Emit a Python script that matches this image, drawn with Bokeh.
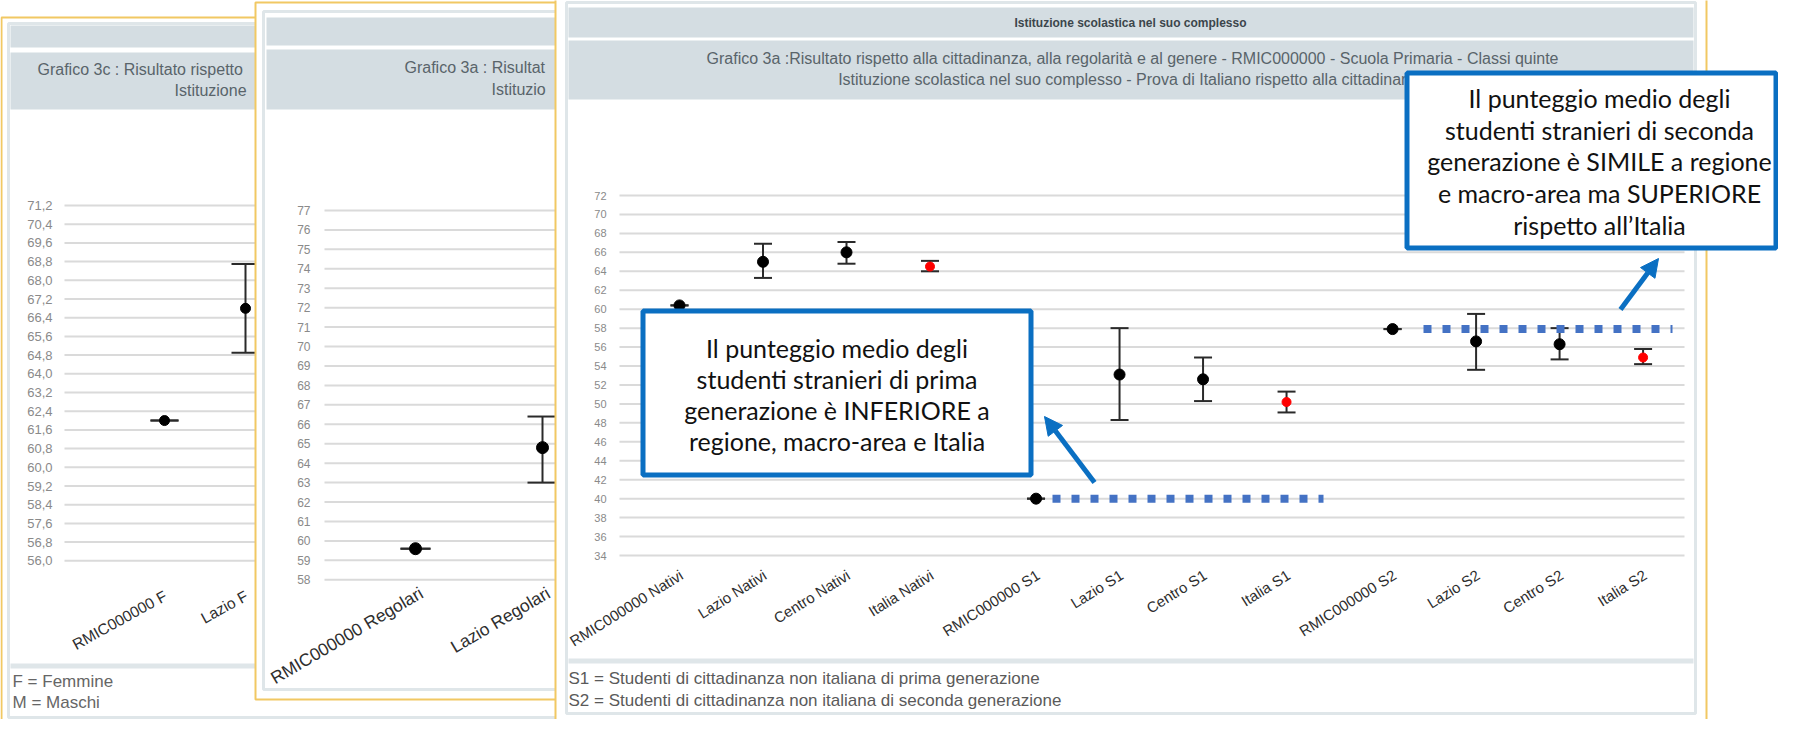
from bokeh.plotting import figure
from bokeh.models import Range1d, Arrow, NormalHead, ColumnDataSource
from bokeh.core.properties import value
from bokeh.embed import file_html
from bokeh.resources import INLINE
import math

# ------------------------------------------------------------------ data
# Grafico 3c (genere) - only the part that is not hidden by the other panels
g3c_categories = ["RMIC000000 F", "Lazio F"]
g3c_mean = [62.0, 66.8]
g3c_low = [62.0, 64.9]
g3c_high = [62.0, 68.7]
g3c_ticks = [71.2, 70.4, 69.6, 68.8, 68.0, 67.2, 66.4, 65.6, 64.8, 64.0,
             63.2, 62.4, 61.6, 60.8, 60.0, 59.2, 58.4, 57.6, 56.8, 56.0]
g3c_header = ["Grafico 3c :  Risultato rispetto", "Istituzione"]
g3c_footer = ["F = Femmine", "M = Maschi"]

# Grafico 3a (regolarita') - visible part
g3a_categories = ["RMIC000000 Regolari", "Lazio Regolari"]
g3a_mean = [59.6, 64.8]
g3a_low = [59.6, 63.0]
g3a_high = [59.6, 66.4]
g3a_ticks = [77, 76, 75, 74, 73, 72, 71, 70, 69, 68, 67, 66, 65, 64, 63, 62, 61, 60, 59, 58]
g3a_header = ["Grafico 3a :  Risultat", "Istituzio"]

# main chart (cittadinanza)
main_categories = ["RMIC000000 Nativi", "Lazio Nativi", "Centro Nativi", "Italia Nativi",
                   "RMIC000000 S1", "Lazio S1", "Centro S1", "Italia S1",
                   "RMIC000000 S2", "Lazio S2", "Centro S2", "Italia S2"]
main_group = [0, 0, 0, 0, 1, 1, 1, 1, 2, 2, 2, 2]
main_mean = [60.4, 65.0, 66.0, 64.5, 40.0, 53.1, 52.6, 50.2, 57.9, 56.6, 56.3, 54.9]
main_low = [60.4, 63.3, 64.8, 64.0, 40.0, 48.3, 50.3, 49.1, 57.9, 53.6, 54.7, 54.2]
main_high = [60.4, 66.9, 67.1, 65.1, 40.0, 58.0, 54.9, 51.3, 57.9, 59.5, 58.0, 55.8]
main_ticks = [72, 70, 68, 66, 64, 62, 60, 58, 56, 54, 52, 50, 48, 46, 44, 42, 40, 38, 36, 34]
main_title = "Istituzione scolastica nel suo complesso"
main_header = ["Grafico 3a :Risultato rispetto alla cittadinanza, alla regolarità e al genere - RMIC000000 - Scuola Primaria - Classi quinte",
               "Istituzione scolastica nel suo complesso - Prova di Italiano rispetto alla cittadinanza"]
main_footer = ["S1 = Studenti di cittadinanza non italiana di prima generazione",
               "S2 = Studenti di cittadinanza non italiana di seconda generazione"]

note_s1 = ["Il punteggio medio degli", "studenti stranieri di prima",
           "generazione è INFERIORE a", "regione, macro-area e Italia"]
note_s2 = ["Il punteggio medio degli", "studenti stranieri di seconda",
           "generazione è SIMILE a regione", "e macro-area ma SUPERIORE",
           "rispetto all’Italia"]

# ------------------------------------------------------------------ styles
ARIAL = value("Liberation Sans")
CALLOUT_FONT = value("Lato")
GOLD = "#f1c863"
INNER = "#dfe6e9"
HDR = "#d4dde2"
GRID = "#dadada"
BAR = "#2a2a2a"
BLUE = "#0a6fc2"
DOTS = "#4472c4"
HDR_TXT = "#59646a"

# ------------------------------------------------------------------ canvas
W, H = 1778, 719
M = 8  # page margin
p = figure(width=W, height=H, x_range=Range1d(M, M + W), y_range=Range1d(M + H, M),
           output_backend="svg", toolbar_location=None, tools="", min_border=0,
           x_axis_location=None, y_axis_location=None, outline_line_color=None,
           background_fill_color="white", border_fill_color="white")
p.grid.visible = False


def lin_range(v_a, px_a, v_b, px_b, px_start, px_end):
    k = (v_b - v_a) / (px_b - px_a)
    return Range1d(start=v_a + (px_start - px_a) * k, end=v_a + (px_end - px_a) * k)


GAP = 0.27
main_pos = [i + GAP * g for i, g in enumerate(main_group)]

p.extra_x_ranges = {
    "g3c_x": lin_range(0, 172, 1, 253, M, M + W),
    "g3a_x": lin_range(0, 423, 1, 550, M, M + W),
    "main_x": lin_range(0, 687, 1, 770.5, M, M + W),
}
p.extra_y_ranges = {
    "g3c_y": lin_range(71.2, 213, 56.0, 568.3, M + H, M),
    "g3a_y": lin_range(77, 218, 58, 587.3, M + H, M),
    "main_y": lin_range(72, 203, 34, 563, M + H, M),
}


def rect(l, r, t, b, fill=None, line=None, lw=1):
    p.quad(left=[l], right=[r], top=[t], bottom=[b], fill_color=fill,
           line_color=line, line_width=lw)


def texts(xs, ys, strs, size, color, align="left", baseline="middle", font=ARIAL,
          style="normal", angle=0, xr="default", yr="default", dx=0):
    src = ColumnDataSource(dict(x=xs, y=ys, t=strs))
    p.text(x="x", y="y", text="t", source=src, x_range_name=xr, y_range_name=yr,
           text_font=font, text_font_size=size, text_color=color, text_align=align,
           text_baseline=baseline, text_font_style=style, angle=angle, x_offset=dx)


def panel(gold, inner, hx, h1, h2, foot=None):
    l, t, r, b = gold
    rect(l, r, t, b, fill="white", line=GOLD, lw=2)
    il, it, ir, ib = inner
    rect(il, ir, it, ib, fill=None, line=INNER, lw=3)
    rect(hx[0], hx[1], h1[0], h1[1], fill=HDR)
    rect(hx[0], hx[1], h2[0], h2[1], fill=HDR)
    if foot is not None:
        rect(hx[0], hx[1], foot, foot + 5, fill=INNER)


def yaxis(ticks, labels, label_x, yr, size, g0, g1):
    n = len(ticks)
    p.segment(x0=[g0] * n, x1=[g1] * n, y0=ticks, y1=ticks, y_range_name=yr,
              line_color=GRID, line_width=2)
    texts([label_x] * n, ticks, labels, size, "#8a8a8a", align="right", yr=yr)


def errorbars(categories, xs, mean, low, high, xr, yr, cap, dot, lw):
    # national reference points (Italia) are drawn as a smaller red dot
    colors = ["red" if c.startswith("Italia") else "black" for c in categories]
    sizes = [dot - 2 if c.startswith("Italia") else dot for c in categories]
    src = ColumnDataSource(dict(x=xs, m=mean, lo=low, hi=high, dot_color=colors, dot_size=sizes))
    kw = dict(source=src, x_range_name=xr, y_range_name=yr)
    p.segment(x0="x", y0="lo", x1="x", y1="hi", line_color=BAR, line_width=lw, **kw)
    p.scatter(x="x", y="lo", marker="dash", size=cap, line_color=BAR, line_width=lw, **kw)
    p.scatter(x="x", y="hi", marker="dash", size=cap, line_color=BAR, line_width=lw, **kw)
    p.scatter(x="x", y="m", marker="circle", size="dot_size", fill_color="dot_color",
              line_color="dot_color", **kw)


def xlabels(xs, labels, xr, y_px, size, angle_deg, dx):
    n = len(xs)
    texts(xs, [y_px] * n, labels, size, "#2e2e2e", align="right", baseline="middle",
          angle=math.radians(angle_deg), xr=xr, dx=dx)


# ---------------------------------------------------------- panel 3c (back)
panel((9, 25, 700, 733), (16, 31, 690, 725), (18, 690), (33, 55), (60, 117), foot=671)
texts([45, 182], [77, 98], g3c_header, "16px", HDR_TXT)
g3c_x = list(range(len(g3c_categories)))
yaxis(g3c_ticks, [f"{t:.1f}".replace(".", ",") for t in g3c_ticks], 60, "g3c_y", "13px", 72, 700)
errorbars(g3c_categories, g3c_x, g3c_mean, g3c_low, g3c_high, "g3c_x", "g3c_y", 28, 10, 2)
xlabels(g3c_x, g3c_categories, "g3c_x", 602, "15.5px", 29, 1)
texts([20, 20], [689, 710], g3c_footer, "17px", "#666666")

# ---------------------------------------------------------- panel 3a (middle)
panel((263, 10, 1000, 707), (271, 19, 990, 697), (274, 990), (25, 53), (57, 117))
texts([412, 499], [75, 97], g3a_header, "16px", HDR_TXT)
g3a_x = list(range(len(g3a_categories)))
yaxis(g3a_ticks, [str(t) for t in g3a_ticks], 318, "g3a_y", "12px", 332, 1000)
errorbars(g3a_categories, g3a_x, g3a_mean, g3a_low, g3a_high, "g3a_x", "g3a_y", 30, 12, 2)
xlabels(g3a_x, g3a_categories, "g3a_x", 599, "17.5px", 30.5, 6)

# ---------------------------------------------------------- main panel (front)
panel((563, 2, 1714, 733), (574, 10, 1703, 721), (576, 1701), (15, 45), (48, 107), foot=666)
texts([1138], [30], [main_title], "12px", "#3c464c", align="center", style="bold")
texts([1140], [66], [main_header[0]], "16px", HDR_TXT, align="center")
texts([1140], [87], [main_header[1]], "16px", HDR_TXT, align="center")
yaxis(main_ticks, [str(t) for t in main_ticks], 614, "main_y", "11px", 627, 1692)
errorbars(main_categories, main_pos, main_mean, main_low, main_high, "main_x", "main_y", 18, 11, 2)
xlabels(main_pos, main_categories, "main_x", 581, "15px", 32, 2)
texts([576, 576], [686, 708], main_footer, "17px", "#5a5a5a")

# reference lines at the school's S1 / S2 values
p.segment(x0=[1060], x1=[1331], y0=[main_mean[4]], y1=[main_mean[4]], y_range_name="main_y",
          line_color=DOTS, line_width=8, line_dash="8 11", line_cap="butt")
p.segment(x0=[1431], x1=[1680], y0=[main_mean[8]], y1=[main_mean[8]], y_range_name="main_y",
          line_color=DOTS, line_width=8, line_dash="8 11", line_cap="butt")

# ---------------------------------------------------------- call-outs
rect(650.5, 1038.5, 318.5, 482.5, fill="white", line=BLUE, lw=5)
texts([844.5] * 4, [355, 386, 417, 448], note_s1, "25px", "#111111", align="center",
      font=CALLOUT_FONT)
rect(1414.5, 1783.5, 80.5, 255.5, fill="white", line=BLUE, lw=5)
texts([1607] * 5, [105, 137, 168, 200, 232], note_s2, "25px", "#111111", align="center",
      font=CALLOUT_FONT)

p.add_layout(Arrow(end=NormalHead(size=18, fill_color=BLUE, line_color=BLUE),
                   x_start=1102, y_start=490, x_end=1052, y_end=424,
                   line_color=BLUE, line_width=5))
p.add_layout(Arrow(end=NormalHead(size=18, fill_color=BLUE, line_color=BLUE),
                   x_start=1628, y_start=317, x_end=1666, y_end=266,
                   line_color=BLUE, line_width=5))

open("out.html", "w").write(file_html(p, INLINE))
